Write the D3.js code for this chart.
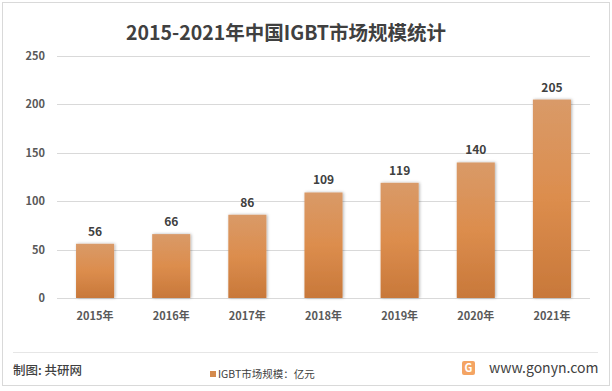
<!DOCTYPE html>
<html lang="zh">
<head>
<meta charset="UTF-8">
<title>2015-2021年中国IGBT市场规模统计</title>
<script src="https://d3js.org/d3.v7.min.js"></script>
<style>
  body { margin: 0; background: #fff; }
  text { font-family: "Noto Sans CJK SC", "Microsoft YaHei", sans-serif; }
</style>
</head>
<body>
<div id="chart"></div>
<script>
// data
const years = ["2015年", "2016年", "2017年", "2018年", "2019年", "2020年", "2021年"];
const values = [56, 66, 86, 109, 119, 140, 205];
const yTicks = [0, 50, 100, 150, 200, 250];

const W = 612, H = 391;
const margin = { top: 56, right: 22, bottom: 93, left: 57 };
const width = W - margin.left - margin.right;
const height = H - margin.top - margin.bottom;

const svg = d3.select("#chart").append("svg")
    .attr("width", W)
    .attr("height", H);

const defs = svg.append("defs");
const grad = defs.append("linearGradient")
    .attr("id", "barGrad")
    .attr("x1", 0).attr("y1", 0).attr("x2", 0).attr("y2", 1);
grad.append("stop").attr("offset", "0%").attr("stop-color", "#d99a68");
grad.append("stop").attr("offset", "50%").attr("stop-color", "#dc8d4d");
grad.append("stop").attr("offset", "100%").attr("stop-color", "#c8783a");

const shadow = defs.append("filter").attr("id", "shadow")
    .attr("x", "-30%").attr("y", "-10%").attr("width", "160%").attr("height", "120%");
shadow.append("feDropShadow")
    .attr("dx", 1).attr("dy", 0).attr("stdDeviation", 1.5)
    .attr("flood-color", "#000").attr("flood-opacity", 0.3);

// outer frame
svg.append("rect")
    .attr("x", 2.5).attr("y", 2.5)
    .attr("width", W - 5).attr("height", H - 8)
    .attr("fill", "#fff")
    .attr("stroke", "#d9d9d9");

// title
svg.append("text")
    .attr("x", 286)
    .attr("y", 40)
    .attr("text-anchor", "middle")
    .attr("font-size", 19.5)
    .attr("font-weight", "bold")
    .attr("fill", "#404040")
    .text("2015-2021年中国IGBT市场规模统计");

const g = svg.append("g")
    .attr("transform", `translate(${margin.left},${margin.top})`);

const x = d3.scaleBand()
    .domain(years)
    .range([0, width])
    .paddingInner(0.5)
    .paddingOuter(0.25);

const y = d3.scaleLinear()
    .domain([0, 250])
    .range([height, 0]);

// gridlines
g.append("g")
    .selectAll("line")
    .data(yTicks)
    .join("line")
    .attr("x1", 0).attr("x2", width)
    .attr("y1", d => Math.round(y(d)) + 0.5)
    .attr("y2", d => Math.round(y(d)) + 0.5)
    .attr("stroke", "#d9d9d9");

// y axis labels
const yAxis = g.append("g")
    .call(d3.axisLeft(y).tickValues(yTicks).tickSize(0).tickPadding(12));
yAxis.select(".domain").remove();
yAxis.selectAll("text")
    .attr("font-size", 11)
    .attr("font-weight", "bold")
    .attr("fill", "#595959")
    .attr("font-family", "\"Noto Sans CJK SC\", sans-serif");

// x axis labels
const xAxis = g.append("g")
    .attr("transform", `translate(0,${height})`)
    .call(d3.axisBottom(x).tickSize(0).tickPadding(14));
xAxis.select(".domain").remove();
xAxis.selectAll("text")
    .attr("font-size", 11)
    .attr("font-weight", "bold")
    .attr("fill", "#595959")
    .attr("font-family", "\"Noto Sans CJK SC\", sans-serif");

// bars
g.selectAll("rect.bar")
    .data(values)
    .join("rect")
    .attr("class", "bar")
    .attr("x", (d, i) => x(years[i]))
    .attr("y", d => y(d))
    .attr("width", x.bandwidth())
    .attr("height", d => height - y(d))
    .attr("fill", "url(#barGrad)")
    .attr("filter", "url(#shadow)");

// value labels
g.selectAll("text.val")
    .data(values)
    .join("text")
    .attr("class", "val")
    .attr("x", (d, i) => x(years[i]) + x.bandwidth() / 2)
    .attr("y", d => y(d) - 8)
    .attr("text-anchor", "middle")
    .attr("font-size", 12)
    .attr("font-weight", "bold")
    .attr("fill", "#404040")
    .text(d => d);

// footer
svg.append("line")
    .attr("x1", 13).attr("x2", 598)
    .attr("y1", 352.5).attr("y2", 352.5)
    .attr("stroke", "#e6e6e6");

svg.append("text")
    .attr("x", 13).attr("y", 375)
    .attr("font-size", 12.5)
    .attr("font-weight", 500)
    .attr("fill", "#404040")
    .text("制图: 共研网");

svg.append("rect")
    .attr("x", 210).attr("y", 371)
    .attr("width", 6).attr("height", 6)
    .attr("fill", "#d48a4c");
svg.append("text")
    .attr("x", 218).attr("y", 378)
    .attr("font-size", 10.5)
    .attr("fill", "#404040")
    .text("IGBT市场规模：亿元");

// logo
svg.append("rect")
    .attr("x", 462).attr("y", 361)
    .attr("width", 13).attr("height", 14)
    .attr("rx", 2)
    .attr("fill", "#f4a463");
svg.append("text")
    .attr("x", 468.5).attr("y", 372)
    .attr("text-anchor", "middle")
    .attr("font-size", 11)
    .attr("font-weight", "bold")
    .attr("fill", "#fff")
    .text("G");
svg.append("text")
    .attr("x", 489).attr("y", 373)
    .attr("font-size", 14)
    .attr("fill", "#404040")
    .attr("font-family", "\"Liberation Sans\", sans-serif")
    .text("www.gonyn.com");
</script>
</body>
</html>
